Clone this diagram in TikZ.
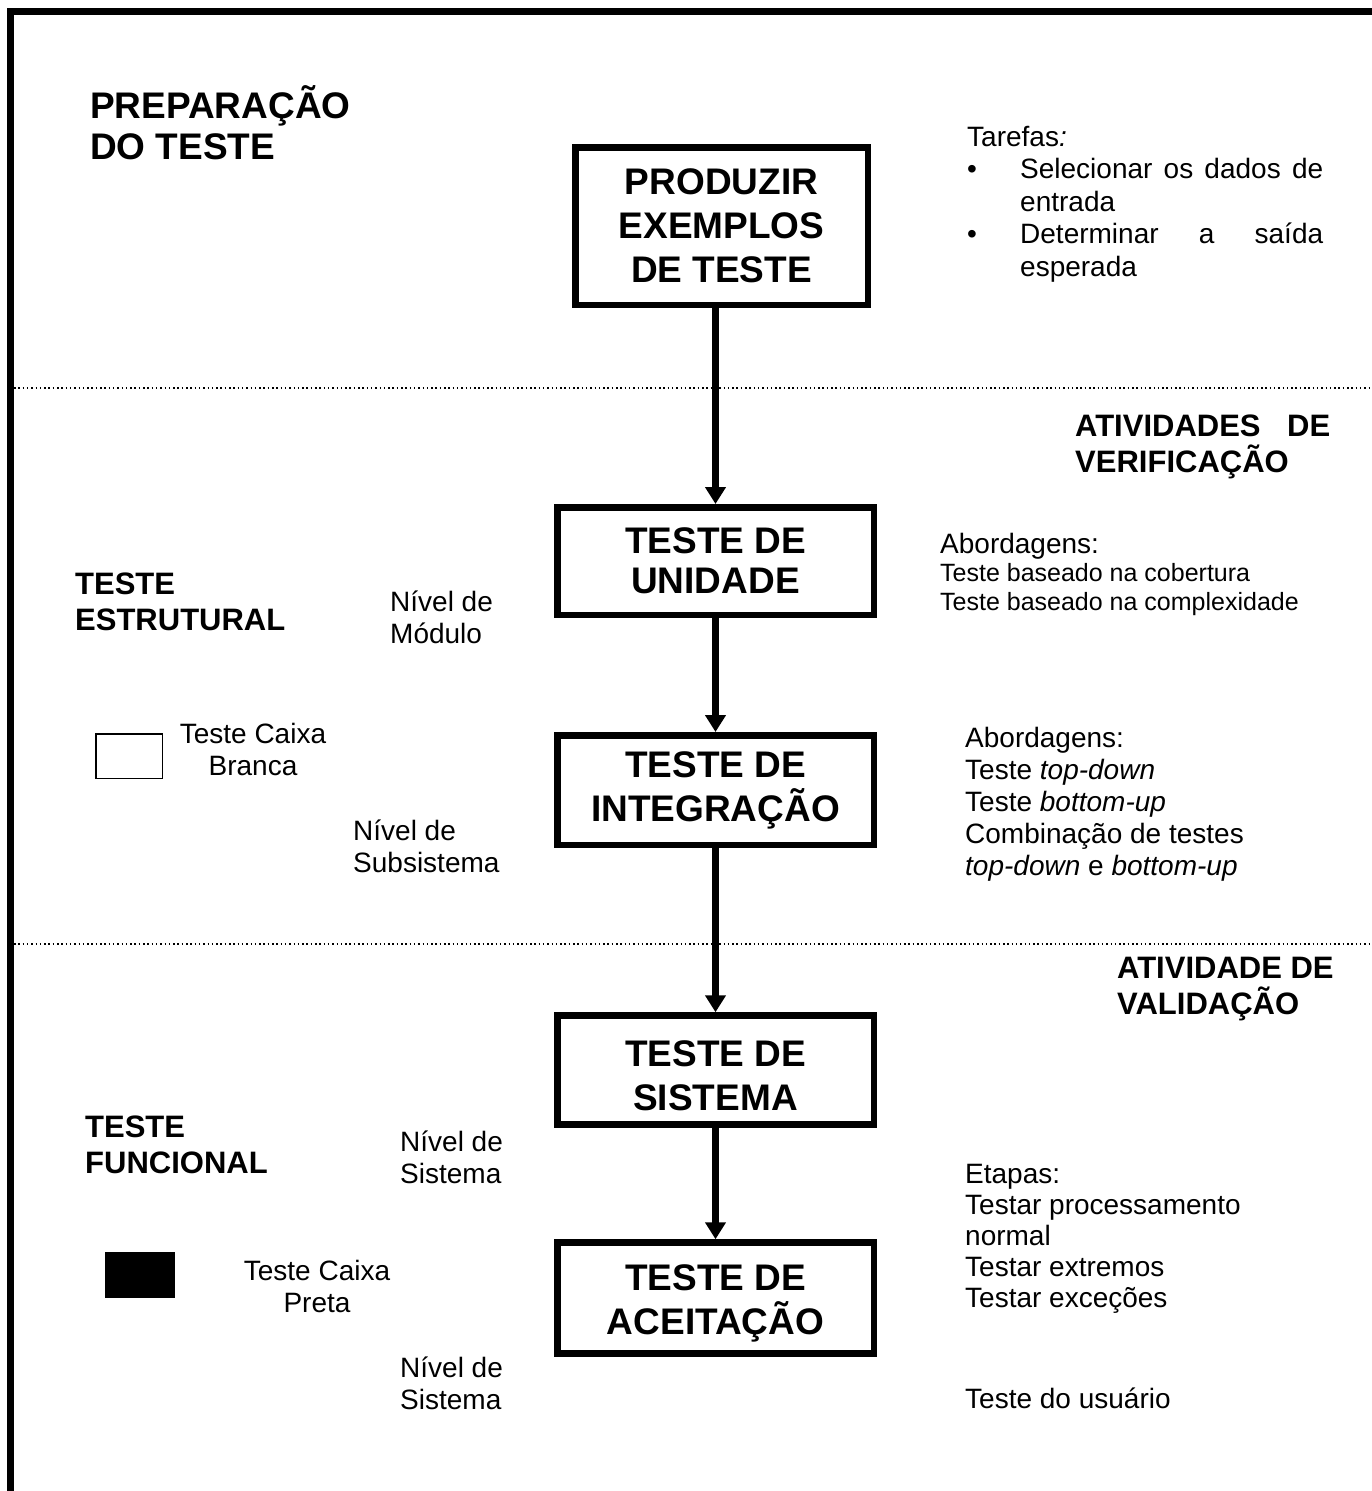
\documentclass[tikz,border=0pt]{standalone}
\usepackage{fontspec}
\setmainfont{Liberation Sans}
\usetikzlibrary{arrows.meta}
\newcommand\tp{\rule{0pt}{1em}}
\newcommand\lowr{\rule{0pt}{36.5pt}}
\begin{document}
\begin{tikzpicture}[x=1pt,y=-1pt,
  head/.style={font=\bfseries\fontsize{31}{36.5}\selectfont, anchor=north west, inner sep=0pt, align=left},
  txt/.style={font=\fontsize{28}{32}\selectfont, anchor=north west, inner sep=0pt, align=left},
  box/.style={draw, line width=6.5pt, minimum width=316.5pt, align=center, inner sep=0pt, font=\bfseries\fontsize{37}{44}\selectfont},
  arr/.style={line width=7pt, -{Triangle[width=20pt,length=17pt]}},
  sep/.style={line width=1.5pt, dash pattern=on 1.5pt off 2.8pt}
]
\useasboundingbox (0,0) rectangle (1371,1491);
% frame
\coordinate (fbl) at (10.3,1495);
\coordinate (ftl) at (10.3,11.7);
\coordinate (ftr) at (1375,11.7);
\draw[line width=7pt, line join=miter] (fbl) -- (ftl) -- (ftr);
% dotted separators
\coordinate (s1a) at (14,388);
\coordinate (s1b) at (1371,388);
\coordinate (s2a) at (14,944);
\coordinate (s2b) at (1371,944);
\draw[sep] (s1a) -- (s1b);
\draw[sep] (s2a) -- (s2b);
% main boxes
\node[box, minimum width=292.5pt, minimum height=157.5pt] (b1) at (721.5,226) {PRODUZIR\\EXEMPLOS\\DE TESTE};
\node[box, minimum height=107.5pt, font=\bfseries\fontsize{37}{40}\selectfont] (b2) at (715.5,561) {TESTE DE\\UNIDADE};
\node[box, minimum height=109.5pt] (b3) at (715.5,790) {TESTE DE\\INTEGRAÇÃO};
\node[box, minimum height=109pt] (b4) at (715.5,1070) {\lowr TESTE DE\\SISTEMA};
\node[box, minimum height=111pt] (b5) at (715.5,1298) {\lowr TESTE DE\\ACEITAÇÃO};
% arrows
\draw[arr] (b1.south -| b2.north) -- (b2.north);
\draw[arr] (b2) -- (b3);
\draw[arr] (b3) -- (b4);
\draw[arr] (b4) -- (b5);
% left headings
\node[head, font=\bfseries\fontsize{37}{41}\selectfont] (prep) at (90,81) {\tp PREPARAÇÃO\\DO TESTE};
\node[head] (estr) at (75,563) {\tp TESTE\\ESTRUTURAL};
\node[head] (func) at (85,1106) {\tp TESTE\\FUNCIONAL};
% right headings
\node[head] (verif) at (1075,405) {\tp\makebox[255pt][s]{ATIVIDADES DE}\\VERIFICAÇÃO};
\node[head] (valid) at (1117,947) {\tp ATIVIDADE DE\\VALIDAÇÃO};
% tasks
\node[txt, text width=356pt, align=justify, font=\fontsize{28}{32.5}\selectfont] (tar) at (967,118)
  {\parindent=0pt\tp Tarefas\textit{:}\par
   \hangindent=53pt\hangafter=1\makebox[53pt][l]{•}Selecionar os dados de\linebreak entrada\par
   \hangindent=53pt\hangafter=1\makebox[53pt][l]{•}Determinar a saída\linebreak esperada\par};
% level labels
\node[txt] (nmod) at (390,583) {\tp Nível de\\Módulo};
\node[txt] (nsub) at (353,812) {\tp Nível de\\Subsistema};
\node[txt] (nsis1) at (400,1123) {\tp Nível de\\Sistema};
\node[txt] (nsis2) at (400,1349) {\tp Nível de\\Sistema};
% legend
\node[draw, line width=1.5pt, minimum width=66.5pt, minimum height=44.5pt, inner sep=0pt] (wbox) at (129,756) {};
\node[txt, align=center, anchor=north] (wlab) at (253,715) {\tp Teste Caixa\\Branca};
\node[fill=black, minimum width=70pt, minimum height=46pt, inner sep=0pt] (bbox) at (140,1275) {};
\node[txt, align=center, anchor=north] (blab) at (317,1252) {\tp Teste Caixa\\Preta};
% approaches
\node[txt, font=\fontsize{28}{28.5}\selectfont] (ab1) at (940,525)
  {\tp Abordagens:\\{\fontsize{25}{28.5}\selectfont Teste baseado na cobertura}\\{\fontsize{25}{28.5}\selectfont Teste baseado na complexidade}};
\node[txt] (ab2) at (965,719)
  {\tp Abordagens:\\Teste \textit{top-down}\\Teste \textit{bottom-up}\\Combinação de testes\\\textit{top-down} e \textit{bottom-up}};
\node[txt, font=\fontsize{28}{31}\selectfont] (etap) at (965,1155)
  {\tp Etapas:\\Testar processamento\\normal\\Testar extremos\\Testar exceções};
\node[txt] (usu) at (965,1380) {\tp Teste do usuário};
\end{tikzpicture}
\end{document}
